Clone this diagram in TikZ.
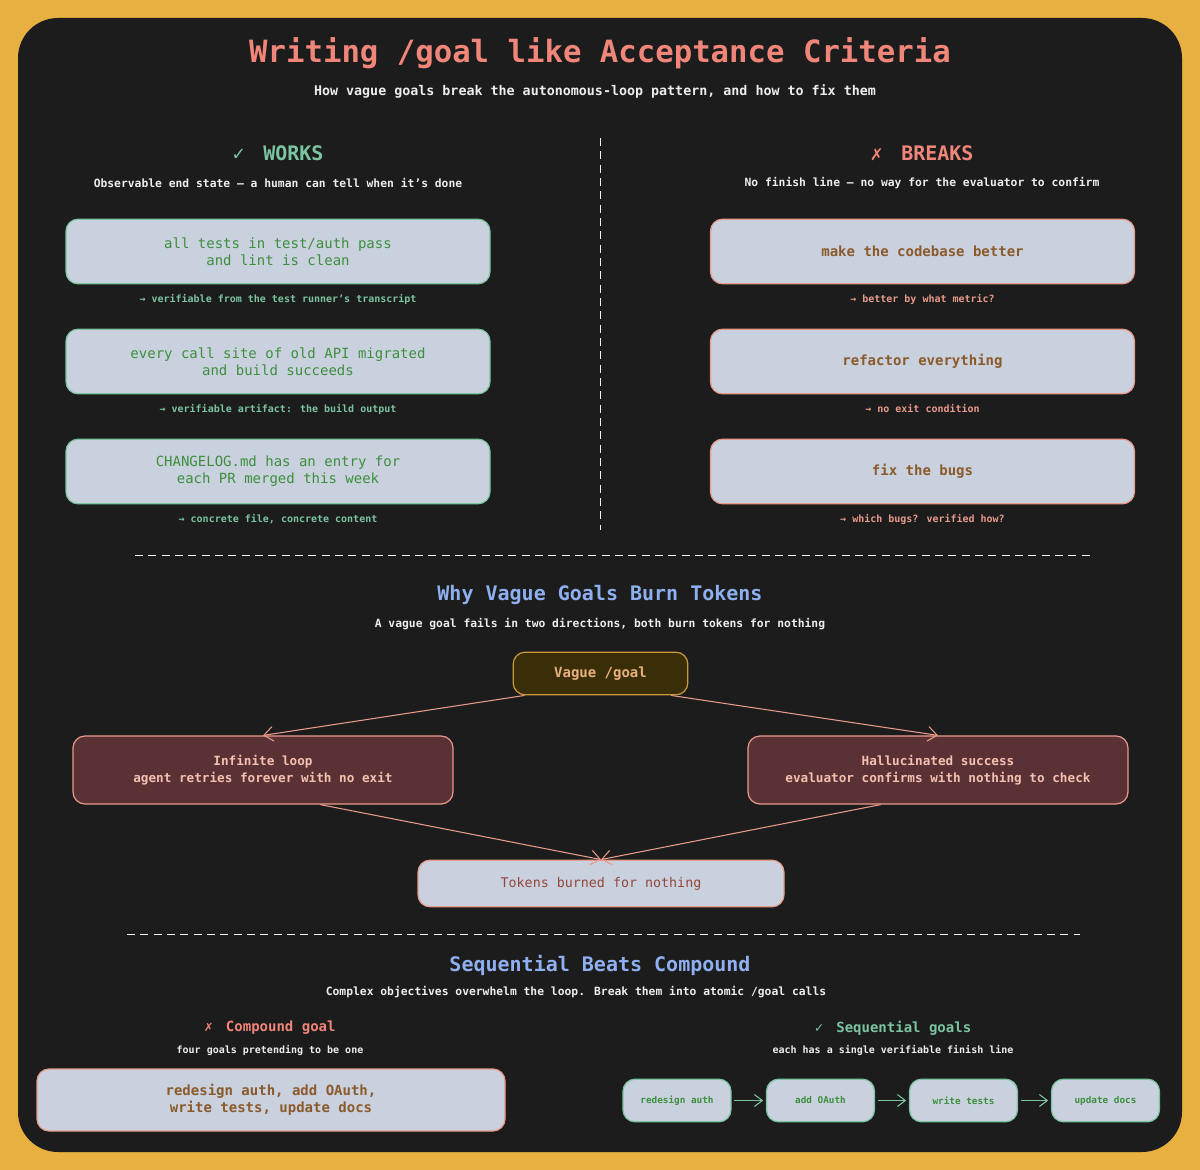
\documentclass[tikz,border=0pt]{standalone}
\usepackage{fontspec}
\setmainfont{DejaVu Sans Mono}
\usetikzlibrary{arrows.meta}
\definecolor{bgo}{HTML}{E8B040}
\definecolor{panel}{HTML}{1C1C1C}
\definecolor{salmon}{HTML}{F0857A}
\definecolor{teal}{HTML}{7BC4A0}
\definecolor{lbox}{HTML}{C9D0DE}
\definecolor{gtext}{HTML}{3D8F3D}
\definecolor{pink}{HTML}{E89A8A}
\definecolor{brown}{HTML}{8B5A2B}
\definecolor{vfill}{HTML}{3A2E08}
\definecolor{vdraw}{HTML}{C89A3A}
\definecolor{vtext}{HTML}{E8B080}
\definecolor{rfill}{HTML}{5A3236}
\definecolor{rtext}{HTML}{F5C0B0}
\definecolor{hblue}{HTML}{8FB0F0}
\definecolor{wtext}{HTML}{EDEDED}
\definecolor{ttext}{HTML}{94483C}
\tikzset{
 bx/.style={rounded corners=9pt,line width=0.9pt,align=center,inner sep=0pt},
 good/.style={bx,fill=lbox,draw=teal,text=gtext,font=\fontsize{10.5}{13}\selectfont},
 bad/.style={bx,fill=lbox,draw=pink,text=brown,font=\fontsize{10.5}{13}\selectfont\bfseries},
 redbox/.style={bx,fill=rfill,draw=pink,text=rtext,font=\fontsize{9.5}{13}\selectfont\bfseries},
 seqb/.style={bx,fill=lbox,draw=teal,text=gtext,font=\fontsize{7}{9}\selectfont\bfseries,minimum width=81pt,minimum height=32pt},
 sub/.style={text=wtext,font=\fontsize{8.5}{10}\selectfont\bfseries},
 gnote/.style={text=teal,font=\fontsize{7.5}{9}\selectfont\bfseries},
 rnote/.style={text=pink,font=\fontsize{7.5}{9}\selectfont\bfseries},
 hd/.style={font=\fontsize{15}{18}\selectfont\bfseries},
 arr/.style={draw=pink,line width=0.8pt,-{Straight Barb[length=7pt,width=11pt]}},
 sarr/.style={draw=teal,line width=0.8pt,shorten <=2pt,shorten >=2pt,-{Straight Barb[length=6pt,width=9pt]}},
 dsh/.style={draw=wtext!70,dash pattern=on 6pt off 4pt,line width=0.6pt}
}
\begin{document}
\begin{tikzpicture}[x=0.75pt,y=-0.75pt]
\fill[bgo] (0,0) rectangle (1200,1170);
\fill[panel,rounded corners=30pt] (18,18) rectangle (1182,1152);
\node[text=salmon,font=\fontsize{23}{26}\selectfont\bfseries] (title) at (600,53) {Writing /goal like Acceptance Criteria};
\node[sub,font=\fontsize{10}{12}\selectfont\bfseries] (subt) at (595,91) {How vague goals break the autonomous-loop pattern, and how to fix them};
\coordinate (vt) at (600,138); \coordinate (vb) at (600,530);
\draw[dsh] (vt) -- (vb);
\node[hd,text=teal] (works) at (278,153) {✓\,\, WORKS};
\node[sub] (wsub) at (278,183) {Observable end state — a human can tell when it's done};
\node[hd,text=salmon] (breaks) at (922,153) {✗\,\, BREAKS};
\node[sub] (bsub) at (922,183) {No finish line — no way for the evaluator to confirm};
\foreach \n/\y/\t/\nt in {g1/251.5/{all tests in test/auth pass\\and lint is clean}/{verifiable from the test runner's transcript},
 g2/361.5/{every call site of old API migrated\\and build succeeds}/{verifiable artifact: the build output},
 g3/471.5/{CHANGELOG.md has an entry for\\each PR merged this week}/{concrete file, concrete content}}{
 \node[good,minimum width=318pt,minimum height=48.5pt] (\n) at (278,\y) {\t};
 \node[gnote] (\n n) at (278,\y+47.5) {→ \nt};
}
\foreach \n/\y/\t/\nt in {b1/251.5/{make the codebase better}/{better by what metric?},
 b2/361.5/{refactor everything}/{no exit condition},
 b3/471.5/{fix the bugs}/{which bugs? verified how?}}{
 \node[bad,minimum width=318pt,minimum height=48.5pt] (\n) at (922.5,\y) {\t};
 \node[rnote] (\n n) at (922.5,\y+47.5) {→ \nt};
}
\coordinate (h1a) at (135,555); \coordinate (h1b) at (1090,555);
\draw[dsh] (h1a) -- (h1b);
\node[hd,text=hblue] (why) at (600,595) {Why Vague Goals Burn Tokens};
\node[sub] (whys) at (600,624) {A vague goal fails in two directions, both burn tokens for nothing};
\node[bx,fill=vfill,draw=vdraw,text=vtext,font=\fontsize{10.5}{13}\selectfont\bfseries,minimum width=131pt,minimum height=32pt] (vg) at (600.5,673.5) {Vague /goal};
\node[redbox,minimum width=285pt,minimum height=51pt] (inf) at (263,770) {Infinite loop\\agent retries forever with no exit};
\node[redbox,minimum width=285pt,minimum height=51pt] (hal) at (938,770) {Hallucinated success\\evaluator confirms with nothing to check};
\node[bx,fill=lbox,draw=pink,text=ttext,font=\fontsize{10}{13}\selectfont,minimum width=274.5pt,minimum height=35pt] (tok) at (601,883.5) {Tokens burned for nothing};
\draw[arr] ([xshift=9pt]vg.south west) -- (inf.north);
\draw[arr] ([xshift=-13pt]vg.south east) -- (hal.north);
\draw[arr] ([xshift=43pt]inf.south) -- (tok.north);
\draw[arr] ([xshift=-43pt]hal.south) -- (tok.north);
\coordinate (h2a) at (127,934); \coordinate (h2b) at (1080,934);
\draw[dsh] (h2a) -- (h2b);
\node[hd,text=hblue] (seq) at (600,965) {Sequential Beats Compound};
\node[sub] (seqs) at (576,992) {Complex objectives overwhelm the loop. Break them into atomic /goal calls};
\node[text=salmon,font=\fontsize{10.5}{13}\selectfont\bfseries] (cg) at (270,1028) {✗\,\, Compound goal};
\node[sub,font=\fontsize{7.5}{9}\selectfont\bfseries] (cgs) at (270,1050) {four goals pretending to be one};
\node[text=teal,font=\fontsize{10.5}{13}\selectfont\bfseries] (sg) at (893,1028) {✓\,\, Sequential goals};
\node[sub,font=\fontsize{7.5}{9}\selectfont\bfseries] (sgs) at (893,1050) {each has a single verifiable finish line};
\node[bad,minimum width=351pt,minimum height=46.5pt] (comp) at (271,1100) {redesign auth, add OAuth,\\write tests, update docs};
\node[seqb] (s1) at (677,1100.5) {redesign auth};
\node[seqb] (s2) at (820.5,1100.5) {add OAuth};
\node[seqb] (s3) at (963.5,1100.5) {write tests};
\node[seqb] (s4) at (1105.5,1100.5) {update docs};
\draw[sarr] (s1) -- (s2);
\draw[sarr] (s2) -- (s3);
\draw[sarr] (s3) -- (s4);
\end{tikzpicture}
\end{document}
